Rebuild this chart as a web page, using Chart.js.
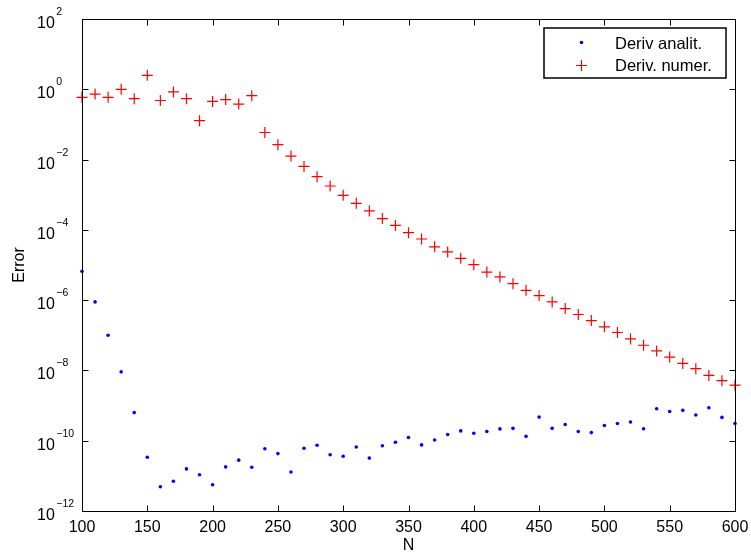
<!DOCTYPE html>
<html>
<head>
<meta charset="utf-8">
<script src="https://cdn.jsdelivr.net/npm/chart.js@4"></script>
<style>
  html, body { margin: 0; padding: 0; background: #fff; }
  #wrap { width: 751px; height: 557px; }
</style>
</head>
<body>
<div id="wrap"><canvas id="chartCanvas" width="751" height="557"></canvas></div>
<script>
// N values (x axis)
const nValues = [100,110,120,130,140,150,160,170,180,190,200,210,220,230,240,250,260,270,280,290,
  300,310,320,330,340,350,360,370,380,390,400,410,420,430,440,450,460,470,480,490,
  500,510,520,530,540,550,560,570,580,590,600];

// error of the analytic derivative
const analitErr = [6.6e-6,8.9e-7,1.0e-7,9.1e-9,6.3e-10,3.4e-11,4.9e-12,7.0e-12,1.58e-11,1.08e-11,
  5.6e-12,1.8e-11,2.8e-11,1.75e-11,5.9e-11,4.3e-11,1.29e-11,6.1e-11,7.4e-11,4.0e-11,
  3.6e-11,6.6e-11,3.2e-11,7.2e-11,9.0e-11,1.23e-10,7.6e-11,1.05e-10,1.5e-10,1.9e-10,
  1.63e-10,1.82e-10,2.17e-10,2.25e-10,1.33e-10,4.7e-10,2.25e-10,2.9e-10,1.82e-10,1.7e-10,
  2.7e-10,3.1e-10,3.4e-10,2.2e-10,8.1e-10,6.8e-10,7.3e-10,5.4e-10,8.7e-10,4.6e-10,3.1e-10];

// error of the numeric derivative
const numerErr = [0.59,0.73,0.59,1.0,0.54,2.5,0.48,0.84,0.54,0.128,
  0.45,0.51,0.38,0.66,0.059,0.0265,0.0126,0.0064,0.00326,0.00177,
  0.00096,0.00057,0.000345,0.00021,1.34e-4,8.3e-5,5.5e-5,3.3e-5,2.35e-5,1.55e-5,
  1.02e-5,6.3e-6,4.57e-6,2.95e-6,1.9e-6,1.35e-6,8.9e-7,5.75e-7,3.9e-7,2.63e-7,
  1.74e-7,1.2e-7,7.9e-8,5.2e-8,3.6e-8,2.4e-8,1.58e-8,1.12e-8,7.2e-9,5.1e-9,3.8e-9];

const seriesNames = ['Deriv analit.', 'Deriv. numer.'];
const xTicks = [100,150,200,250,300,350,400,450,500,550,600];
const yTickExps = [-12,-10,-8,-6,-4,-2,0,2];

const FONT = '"Liberation Sans", Arial, Helvetica, sans-serif';

// draws the matlab style box, inward ticks, labels and legend
const matlabFrame = {
  id: 'matlabFrame',
  afterDraw(chart) {
    const ctx = chart.ctx;
    const a = chart.chartArea;
    const xs = chart.scales.x, ys = chart.scales.y;
    const L = a.left + 0.5, R = a.right + 0.5, T = a.top + 0.5, B = a.bottom + 0.5;
    const tl = 6;
    ctx.save();
    ctx.strokeStyle = '#000';
    ctx.lineWidth = 1;
    ctx.strokeRect(L, T, R - L, B - T);

    ctx.beginPath();
    xTicks.forEach(v => {
      const px = Math.round(xs.getPixelForValue(v)) + 0.5;
      ctx.moveTo(px, B); ctx.lineTo(px, B - tl);
      ctx.moveTo(px, T); ctx.lineTo(px, T + tl);
    });
    yTickExps.forEach(e => {
      const py = Math.round(ys.getPixelForValue(Math.pow(10, e))) + 0.5;
      ctx.moveTo(L, py); ctx.lineTo(L + tl, py);
      ctx.moveTo(R, py); ctx.lineTo(R - tl, py);
    });
    ctx.stroke();

    ctx.fillStyle = '#000';
    // x tick labels
    ctx.font = '16px ' + FONT;
    ctx.textAlign = 'center';
    ctx.textBaseline = 'alphabetic';
    xTicks.forEach(v => {
      ctx.fillText(String(v), xs.getPixelForValue(v), 532);
    });

    // y tick labels 10^e
    yTickExps.forEach(e => {
      const py = ys.getPixelForValue(Math.pow(10, e));
      ctx.textAlign = 'left';
      ctx.font = '16px ' + FONT;
      ctx.fillText('10', 37, py + 9);
      const w = ctx.measureText('10').width;
      ctx.font = '10.5px ' + FONT;
      ctx.fillText(String(e).replace('-', '\u2212'), 37 + w + 1.5, py - 4);
    });

    // axis titles
    ctx.font = '16px ' + FONT;
    ctx.textAlign = 'center';
    ctx.fillText('N', (a.left + a.right) / 2, 550);
    ctx.save();
    ctx.translate(24, (a.top + a.bottom) / 2);
    ctx.rotate(-Math.PI / 2);
    ctx.fillText('Error', 0, 0);
    ctx.restore();

    // legend
    ctx.fillStyle = '#fff';
    ctx.fillRect(544, 28, 182, 50);
    ctx.lineWidth = 1.5;
    ctx.strokeRect(544, 28, 182, 50);
    ctx.fillStyle = '#0000ff';
    ctx.beginPath();
    ctx.arc(581.5, 42.5, 1.8, 0, Math.PI * 2);
    ctx.fill();
    ctx.strokeStyle = '#ff0000';
    ctx.lineWidth = 1.2;
    ctx.beginPath();
    ctx.moveTo(576, 65.5); ctx.lineTo(587, 65.5);
    ctx.moveTo(581.5, 60); ctx.lineTo(581.5, 71);
    ctx.stroke();
    ctx.fillStyle = '#000';
    ctx.textAlign = 'left';
    ctx.font = '16.5px ' + FONT;
    ctx.fillText(seriesNames[0], 615, 48.5);
    ctx.fillText(seriesNames[1], 615, 70.5);
    ctx.restore();
  }
};

const ctx = document.getElementById('chartCanvas').getContext('2d');

new Chart(ctx, {
  type: 'scatter',
  data: {
    datasets: [{
      label: seriesNames[0],
      data: nValues.map((n, i) => ({ x: n, y: analitErr[i] })),
      pointStyle: 'circle',
      pointRadius: 1.8,
      backgroundColor: '#0000ff',
      borderColor: '#0000ff',
      borderWidth: 0
    }, {
      label: seriesNames[1],
      data: nValues.map((n, i) => ({ x: n, y: numerErr[i] })),
      pointStyle: 'cross',
      pointRadius: 5.5,
      backgroundColor: '#ff0000',
      borderColor: '#ff0000',
      borderWidth: 1.2
    }]
  },
  options: {
    responsive: false,
    animation: false,
    clip: false,
    layout: {
      padding: { left: 82, top: 19, right: 16, bottom: 46 }
    },
    scales: {
      x: {
        type: 'linear',
        display: false,
        min: 100,
        max: 600
      },
      y: {
        type: 'logarithmic',
        display: false,
        min: 1e-12,
        max: 1e2
      }
    },
    plugins: {
      legend: { display: false },
      tooltip: { enabled: false }
    }
  },
  plugins: [matlabFrame]
});
</script>
</body>
</html>
